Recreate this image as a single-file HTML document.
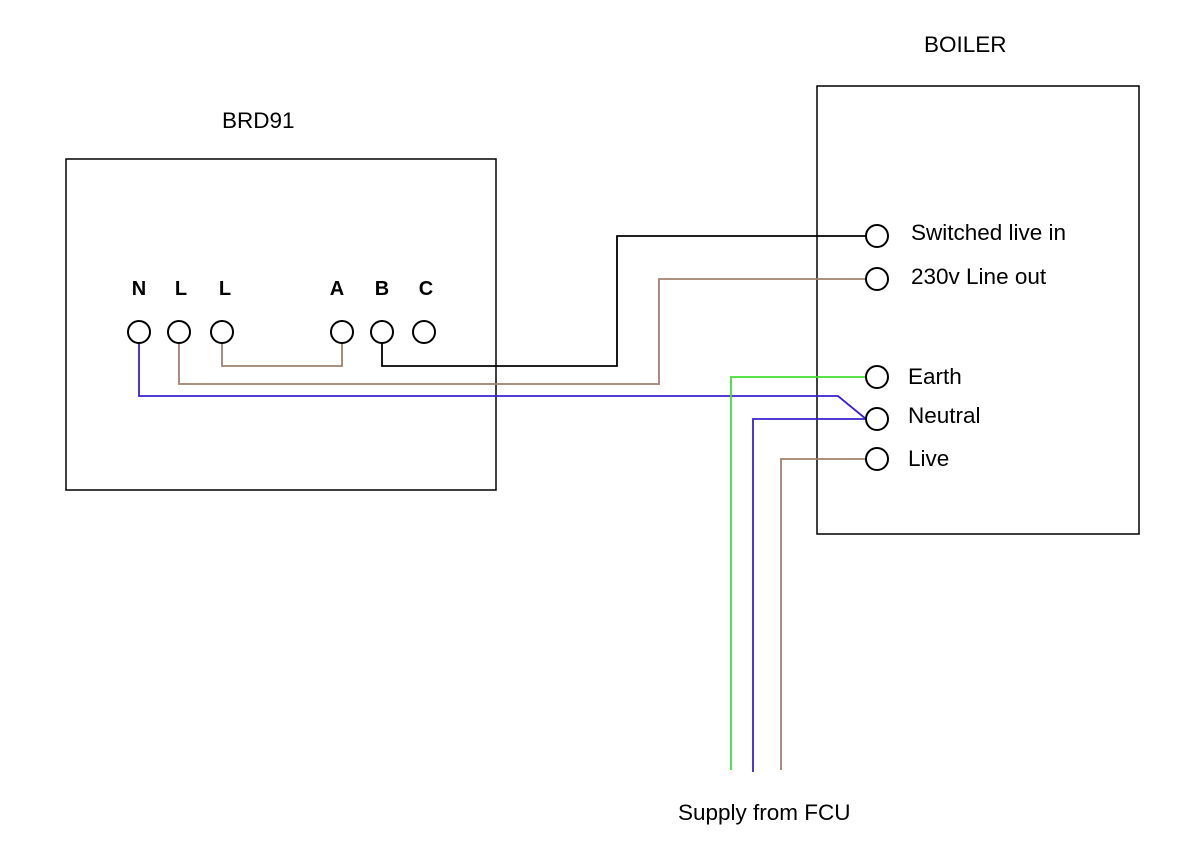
<!DOCTYPE html>
<html><head><meta charset="utf-8"><style>
body{margin:0;background:#fff}
svg{display:block}
text{font-family:"Liberation Sans",sans-serif;fill:#000}
</style></head><body>
<svg width="1200" height="848" viewBox="0 0 1200 848">
<rect x="66" y="159" width="430" height="331" fill="none" stroke="#000" stroke-width="1.5"/>
<rect x="817" y="86" width="322" height="448" fill="none" stroke="#000" stroke-width="1.5"/>
<g fill="none" stroke-width="1.8">
<polyline points="222,343 222,366 342,366 342,343" stroke="#a0806f"/>
<polyline points="382,343 382,366 617,366 617,236 866,236" stroke="#000"/>
<polyline points="179,343 179,384 659,384 659,279 866,279" stroke="#a0806f"/>
<polyline points="139,343 139,396 838,396 866,419" stroke="#3a20d0"/>
<polyline points="731,770 731,377 866,377" stroke="#40e030"/>
<polyline points="753,772 753,419 866,419" stroke="#3a20d0"/>
<polyline points="781,770 781,459 866,459" stroke="#a0806f"/>
</g>
<g fill="#fff" stroke="#000" stroke-width="2">
<circle cx="139" cy="332" r="11"/><circle cx="179" cy="332" r="11"/><circle cx="222" cy="332" r="11"/>
<circle cx="342" cy="332" r="11"/><circle cx="382" cy="332" r="11"/><circle cx="424" cy="332" r="11"/>
<circle cx="877" cy="236" r="11"/><circle cx="877" cy="279" r="11"/><circle cx="877" cy="377" r="11"/>
<circle cx="877" cy="419" r="11"/><circle cx="877" cy="459" r="11"/>
</g>
<g font-size="20" font-weight="bold" text-anchor="middle">
<text x="139" y="295">N</text><text x="181" y="295">L</text><text x="225" y="295">L</text>
<text x="337" y="295">A</text><text x="382" y="295">B</text><text x="426" y="295">C</text>
</g>
<g font-size="22.5">
<text x="222" y="128">BRD91</text>
<text x="924" y="52">BOILER</text>
<text x="911" y="240">Switched live in</text>
<text x="911" y="284">230v Line out</text>
<text x="908" y="384">Earth</text>
<text x="908" y="423">Neutral</text>
<text x="908" y="466">Live</text>
<text x="678" y="820">Supply from FCU</text>
</g>
</svg>
</body></html>
